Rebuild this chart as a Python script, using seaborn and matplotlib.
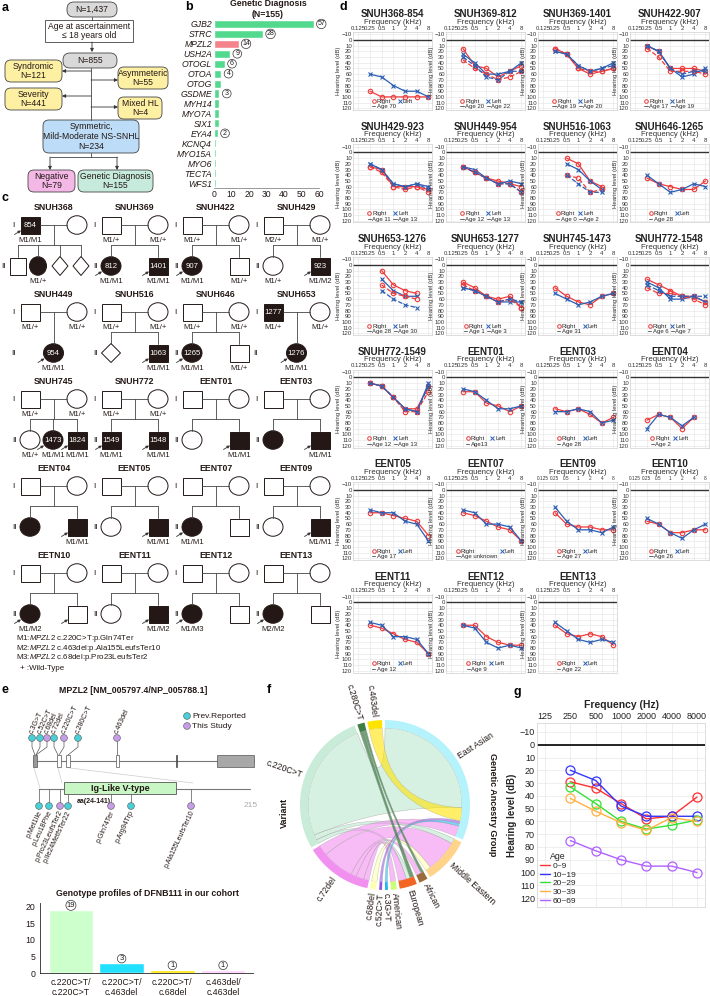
import numpy as np
import pandas as pd
import matplotlib
matplotlib.use('Agg')
import matplotlib.pyplot as plt
import seaborn as sns
from matplotlib.patches import FancyBboxPatch, Rectangle, Ellipse, Polygon, Circle, PathPatch
from matplotlib.path import Path
from matplotlib.lines import Line2D

# ---------------- data ----------------
# b: genetic diagnosis
genes = ['GJB2', 'STRC', 'MPZL2', 'USH2A', 'OTOGL', 'OTOA', 'OTOG', 'GSDME', 'MYH14',
         'MYO7A', 'SIX1', 'EYA4', 'KCNQ4', 'MYO15A', 'MYO6', 'TECTA', 'WFS1']
gene_counts = [57, 28, 14, 9, 6, 4, 4, 3, 3, 3, 3, 2, 1, 1, 1, 1, 1]
gene_circled = ['GJB2', 'STRC', 'MPZL2', 'USH2A', 'OTOGL', 'OTOA', 'GSDME', 'EYA4']

# d: audiograms (0.25, 0.5, 1, 2, 4, 8 kHz), n = not tested
n = None
aud_names = ['SNUH368-854', 'SNUH369-812', 'SNUH369-1401', 'SNUH422-907',
             'SNUH429-923', 'SNUH449-954', 'SNUH516-1063', 'SNUH646-1265',
             'SNUH653-1276', 'SNUH653-1277', 'SNUH745-1473', 'SNUH772-1548',
             'SNUH772-1549', 'EENT01', 'EENT03', 'EENT04',
             'EENT05', 'EENT07', 'EENT09', 'EENT10',
             'EENT11', 'EENT12', 'EENT13']
aud_age_a = ['Age 70', 'Age 20', 'Age 19', 'Age 17', 'Age 11', 'Age 12', 'Age 0', 'Age 28',
             'Age 28', 'Age 1', 'Age 31', 'Age 6', 'Age 12', 'Age13', 'Age 28', 'Age 2',
             'Age 17', 'Age unknown', 'Age 27', 'Age 26', 'Age 12', 'Age 9', 'Age 22']
aud_age_b = [n, 'Age 22', 'Age 20', 'Age 19', 'Age 13', 'Age 13', 'Age 2', n,
             'Age 30', 'Age 3', n, 'Age 7', 'Age 13', n, n, n,
             n, n, n, n, n, n, n]
right_a = [[90, 100, 100, 100, 100, 100], [15, 45, 50, 65, 55, 45], [15, 25, 50, 60, 55, 50],
           [10, 20, 50, 50, 50, 55], [25, 30, 60, 60, 60, 65], [25, 35, 45, 50, 55, 60],
           [n, 10, 20, 50, 60, n], [45, 55, 60, 65, 65, 50], [n, 10, 35, 45, 50, n],
           [30, 40, 55, 60, 55, 75], [40, 55, 65, 70, 55, 50], [25, 35, 45, 55, 55, 65],
           [10, 15, 35, 55, 55, 15], [25, 25, 45, 50, 60, 50], [55, 60, 55, 65, 80, 70],
           [75, 65, 70, 90, 70, n], [40, 40, 45, 50, 55, 80], [40, 45, 55, 65, 70, 90],
           [40, 60, 65, 65, 70, 70], [55, 60, 75, 75, 70, 70], [40, 45, 55, 65, 70, 90],
           [40, 40, 60, 70, 75, 75], [40, 55, 60, 55, 60, 75]]
left_a = [[60, 65, 80, 90, 90, 100], [25, 40, 60, 60, 55, 40], [20, 25, 45, 55, 50, 40],
          [10, 20, 50, 65, 60, 50], [20, 30, 55, 60, 55, 60], [25, 30, 45, 55, 50, 55],
          [n, 20, 30, 50, 65, n], [40, 55, 70, 65, 55, 60], [n, 25, 45, 55, 55, n],
          [40, 45, 55, 65, 65, 65], [50, 60, 70, 65, 55, 50], [30, 40, 60, 60, 55, 65],
          [10, 15, 35, 55, 60, 10], [20, 25, 40, 55, 55, 50], [60, 60, 55, 60, 80, 75],
          [90, 65, 70, 85, 70, n], [35, 40, 40, 55, 60, 90], [35, 40, 60, 60, 65, 90],
          [30, 55, 70, 70, 75, 65], [50, 60, 75, 85, 70, 60], [35, 40, 60, 60, 65, 90],
          [40, 45, 70, 80, 75, 80], [35, 50, 65, 70, 65, 70]]
right_b = [n, [35, 50, 60, 70, 65, 55], [15, 25, 50, 55, 55, 50], [15, 30, 55, 55, 55, 60],
           [25, 35, 60, 65, 60, 70], [25, 35, 45, 55, 55, 70], [n, 40, 45, 70, 65, n], n,
           [n, 35, 50, 55, 60, n], [35, 45, 55, 65, 60, 75], n, [40, 50, 50, 55, 60, 70],
           [10, 15, 35, 60, 60, 25], n, n, n, n, n, n, n, n, n, n]
left_b = [n, [30, 45, 65, 70, 55, 55], [20, 25, 45, 55, 50, 45], [10, 20, 50, 60, 55, 55],
          [20, 30, 55, 60, 55, 65], [25, 35, 45, 55, 55, 70], [n, 40, 55, 70, 70, n], n,
          [n, 45, 60, 70, 75, n], [40, 45, 55, 65, 60, 65], n, [35, 45, 55, 55, 55, 55],
          [10, 15, 35, 55, 60, 15], n, n, n, n, n, n, n, n, n, n]
khz_labels = ['0.125', '0.25', '0.5', '1', '2', '4', '8']

# e: genotype profiles
genotypes = ['c.220C>T/\nc.220C>T', 'c.220C>T/\nc.463del', 'c.220C>T/\nc.68del', 'c.463del/\nc.463del']
genotype_counts = [19, 3, 1, 1]
genotype_colors = ['#ccffcc', '#22e0ff', '#ffe800', '#ffd0ff']
dna_variants = ['c.3G>T', 'c.52C>T', 'c.68del', 'c.72del', 'c.220C>T', 'c.280C>T', 'c.463del']
dna_this_study = [0, 0, 1, 0, 1, 0, 1]
prot_variants = ['p.Met1Ile', 'p.Leu18Phe', 'p.Pro23LeufsTer2', 'p.Ile24MetfsTer22',
                 'p.Gln74Ter', 'p.Arg94Trp', 'p.Ala155LeufsTer10']
prot_this_study = [0, 0, 1, 0, 1, 0, 1]

# f: chord links (variant, ancestry group, weight)
links = [('c.220C>T', 'East Asian', 92), ('c.220C>T', 'Middle Eastern', 4), ('c.220C>T', 'European', 3),
         ('c.463del', 'East Asian', 10), ('c.72del', 'East Asian', 8), ('c.72del', 'Middle Eastern', 24),
         ('c.72del', 'African', 4), ('c.72del', 'European', 6), ('c.72del', 'American', 4),
         ('c.68del', 'Middle Eastern', 4), ('c.52C>T', 'East Asian', 2), ('c.3G>T', 'East Asian', 2),
         ('c.280C>T', 'African', 2), ('c.280C>T', 'European', 3)]
sectors = ['East Asian', 'c.463del', 'c.280C>T', 'c.220C>T', 'c.72del', 'c.68del', 'c.52C>T',
           'c.3G>T', 'American', 'European', 'African', 'Middle Eastern']
sector_colors = ['#b4f3fb', '#ffe400', '#3f7f45', '#c9ecd9', '#f290f0', '#ffffb0', '#9a55e8',
                 '#27b8f0', '#ccff77', '#f26522', '#9b6b3a', '#ffd48a']
east_asian_order = ['c.72del', 'c.3G>T', 'c.52C>T', 'c.463del', 'c.220C>T']

# g: mean audiogram by age group
g_freqs = ['125', '250', '500', '1000', '2000', '4000', '8000']
g_ages = ['0~9', '10~19', '20~29', '30~39', '60~69']
g_colors = ['#ff3030', '#3535ff', '#35e035', '#ffb040', '#b060ff']
g_levels = [[29, 34, 46, 58, 56, 41],
            [20, 28, 48, 56, 56, 56],
            [33, 46, 60, 66, 63, 59],
            [42, 52, 61, 67, 57, 60],
            [75, 83, 90, 95, 95, 100]]

# c: pedigrees (shape, affected, id, genotype, proband)
peds = [
    ('SNUH368', ('s', 1, '854', 'M1/M1', 1), ('c', 0, '', '', 0),
     [('s', 0, '', '', 0), ('c', 1, '', 'M1/+', 0), ('d', 0, '', '', 0), ('d', 0, '', '', 0)]),
    ('SNUH369', ('s', 0, '', 'M1/+', 0), ('c', 0, '', 'M1/+', 0),
     [('c', 1, '812', 'M1/M1', 1), ('s', 1, '1401', 'M1/M1', 1)]),
    ('SNUH422', ('s', 0, '', 'M1/+', 0), ('c', 0, '', 'M1/+', 0),
     [('c', 1, '907', 'M1/M1', 1), ('s', 0, '', 'M1/+', 0)]),
    ('SNUH429', ('s', 0, '', 'M2/+', 0), ('c', 0, '', 'M1/+', 0),
     [('c', 0, '', 'M1/+', 0), ('s', 1, '923', 'M1/M2', 1)]),
    ('SNUH449', ('s', 0, '', 'M1/+', 0), ('c', 0, '', 'M1/+', 0), [('c', 1, '954', 'M1/M1', 1)]),
    ('SNUH516', ('s', 0, '', 'M1/+', 0), ('c', 0, '', 'M1/+', 0),
     [('d', 0, '', '', 0), ('s', 1, '1063', 'M1/M1', 1)]),
    ('SNUH646', ('s', 0, '', 'M1/+', 0), ('c', 0, '', 'M1/+', 0),
     [('c', 1, '1265', 'M1/M1', 1), ('s', 0, '', 'M1/+', 0)]),
    ('SNUH653', ('s', 1, '1277', 'M1/+', 0), ('c', 0, '', 'M1/+', 0), [('c', 1, '1276', 'M1/M1', 1)]),
    ('SNUH745', ('s', 0, '', 'M1/+', 0), ('c', 0, '', 'M1/+', 0),
     [('c', 0, '', 'M1/+', 0), ('c', 1, '1473', 'M1/M1', 1), ('s', 1, '1824', 'M1/M1', 1)]),
    ('SNUH772', ('s', 0, '', 'M1/+', 0), ('c', 0, '', 'M1/+', 0),
     [('s', 1, '1549', 'M1/M1', 1), ('s', 1, '1548', 'M1/M1', 1)]),
    ('EENT01', ('s', 0, '', '', 0), ('c', 0, '', '', 0), [('c', 0, '', '', 0), ('s', 1, '', 'M1/M1', 1)]),
    ('EENT03', ('s', 0, '', '', 0), ('c', 0, '', '', 0), [('c', 1, '', '', 0), ('s', 1, '', 'M1/M1', 1)]),
    ('EENT04', ('s', 0, '', '', 0), ('c', 0, '', '', 0), [('c', 1, '', '', 0), ('s', 1, '', 'M1/M1', 1)]),
    ('EENT05', ('s', 0, '', '', 0), ('c', 0, '', '', 0), [('c', 0, '', '', 0), ('s', 1, '', 'M1/M1', 1)]),
    ('EENT07', ('s', 0, '', '', 0), ('c', 0, '', '', 0), [('c', 1, '', 'M1/M1', 1), ('s', 0, '', '', 0)]),
    ('EENT09', ('s', 0, '', '', 0), ('c', 0, '', '', 0), [('c', 0, '', '', 0), ('s', 1, '', 'M1/M1', 1)]),
    ('EETN10', ('s', 0, '', '', 0), ('c', 0, '', '', 0), [('c', 1, '', 'M1/M2', 1), ('s', 0, '', '', 1)]),
    ('EENT11', ('s', 0, '', '', 0), ('c', 0, '', '', 0), [('c', 0, '', '', 0), ('s', 1, '', 'M1/M2', 1)]),
    ('EENT12', ('s', 0, '', '', 0), ('c', 0, '', '', 0), [('c', 1, '', 'M1/M3', 1), ('s', 0, '', '', 0)]),
    ('EENT13', ('s', 0, '', '', 0), ('c', 0, '', '', 0), [('c', 1, '', 'M2/M2', 1), ('s', 0, '', '', 0)]),
]

# ---------------- figure ----------------
sns.set_theme(style='white')
plt.rcParams['font.family'] = ['Liberation Sans', 'DejaVu Sans']
plt.rcParams['mathtext.fontset'] = 'custom'
plt.rcParams['mathtext.rm'] = 'Liberation Sans'
plt.rcParams['mathtext.it'] = 'Liberation Sans:italic'
plt.rcParams['axes.linewidth'] = 0.6

W, H = 710, 996
fig = plt.figure(figsize=(W / 100, H / 100), dpi=100)
bg = fig.add_axes([0, 0, 1, 1])
bg.set_xlim(0, W)
bg.set_ylim(H, 0)
bg.axis('off')
INK = '#231815'


def box(x0, y0, x1, y1):
    return [x0 / W, 1 - y1 / H, (x1 - x0) / W, (y1 - y0) / H]


def txt(x, y, s, **kw):
    kw.setdefault('ha', 'center')
    kw.setdefault('va', 'center')
    kw.setdefault('color', INK)
    bg.text(x, y, s, **kw)


def arrow(x0, y0, x1, y1, ms=5):
    bg.annotate('', xy=(x1, y1), xytext=(x0, y0),
                arrowprops=dict(arrowstyle='-|>', color='#333', lw=0.6, mutation_scale=ms,
                                shrinkA=0, shrinkB=0))


def line(xs, ys, **kw):
    kw.setdefault('color', '#444')
    kw.setdefault('lw', 0.6)
    bg.plot(xs, ys, **kw)


for s, x, y in [('a', 5, 8), ('b', 189, 7), ('c', 5, 198), ('d', 343, 7), ('e', 5, 690),
                ('f', 269, 690), ('g', 517, 692)]:
    txt(x, y, s, fontsize=9, fontweight='bold', color='black')

# ---- a: flowchart ----
def flow_box(x0, y0, x1, y1, fc, s, r=6):
    bg.add_patch(FancyBboxPatch((x0, y0), x1 - x0, y1 - y0,
                                boxstyle=f'round,pad=0,rounding_size={r}', fc=fc, ec='#444', lw=0.6))
    txt((x0 + x1) / 2, (y0 + y1) / 2, s, fontsize=6.2, linespacing=1.1)


flow_box(67, 2, 117, 17, '#d9d9d9', 'N=1,437', r=7)
line([92, 92], [17, 20])
bg.add_patch(Rectangle((45, 20), 88, 22, fc='white', ec='#444', lw=0.6))
txt(89, 31, 'Age at ascertainment\n≤ 18 years old', fontsize=6.2, linespacing=1.1)
arrow(92, 42, 92, 52)
flow_box(63, 53, 117, 68, '#d9d9d9', 'N=855', r=7)
line([91, 91], [68, 120])
arrow(91, 71, 62, 71)
arrow(91, 80, 118, 80)
arrow(91, 96, 62, 96)
arrow(91, 107, 118, 107)
flow_box(5, 60, 62, 82, '#fdf0a3', 'Syndromic\nN=121')
flow_box(118, 67, 168, 89, '#fdf0a3', 'Asymmeteric\nN=55')
flow_box(5, 88, 62, 110, '#fdf0a3', 'Severity\nN=441')
flow_box(118, 97, 162, 119, '#fdf0a3', 'Mixed HL\nN=4')
flow_box(43, 120, 139, 153, '#bcdcf7', 'Symmetric,\nMild-Moderate NS-SNHL\nN=234')
line([91, 91], [153, 157])
line([50, 117], [157, 157])
arrow(50, 157, 50, 170)
arrow(117, 157, 117, 170)
flow_box(28, 170, 75, 192, '#f4b8e6', 'Negative\nN=79')
flow_box(78, 170, 153, 192, '#c6eadb', 'Genetic Diagnosis\nN=155')

# ---- b: genetic diagnosis bars ----
axb = fig.add_axes(box(214, 19, 319, 188))
dfb = pd.DataFrame({'gene': genes, 'n': gene_counts})
bar_pal = ['#f4838b' if g == 'MPZL2' else '#52d98e' for g in genes]
sns.barplot(data=dfb, x='n', y='gene', hue='gene', palette=bar_pal, legend=False,
            width=0.82, saturation=1, ax=axb)
axb.set_xlim(0, 60)
axb.set_xticks(range(0, 61, 10))
axb.set_yticks(range(len(genes)))
axb.set_yticklabels(genes, fontstyle='italic')
axb.tick_params(labelsize=6.2, length=0, pad=1.5, colors=INK)
axb.set(xlabel='', ylabel='')
sns.despine(ax=axb, left=True)
axb.spines['bottom'].set_color('#888')
for i, (g, v) in enumerate(zip(genes, gene_counts)):
    if g in gene_circled:
        axb.text(v + 4.3, i, str(v), ha='center', va='center', fontsize=5, color=INK,
                 bbox=dict(boxstyle='circle,pad=0.12', fc='white', ec='#333', lw=0.5))
txt(268, 9, 'Genetic Diagnosis\n(N=155)', fontsize=6.3, fontweight='bold', linespacing=1.15)

# ---- c: pedigrees ----
def member(x, y, m, w=19, h=17):
    shape, aff, num, lab, prob = m
    fc = INK if aff else 'white'
    if shape == 's':
        p = Rectangle((x - w / 2, y - h / 2), w, h, fc=fc, ec=INK, lw=0.7)
    elif shape == 'c':
        p = Ellipse((x, y), w + 1, h + 1.5, fc=fc, ec=INK, lw=0.7)
    else:
        p = Polygon([(x, y - h / 2 - 1), (x + w / 2, y), (x, y + h / 2 + 1), (x - w / 2, y)],
                    fc=fc, ec=INK, lw=0.7)
    bg.add_patch(p)
    if num:
        txt(x, y, num, fontsize=5.6, color='white')
    if lab:
        txt(x, y + 15.5, lab, fontsize=5.6)
    if prob:
        arrow(x - w / 2 - 6, y + h / 2 + 1, x - w / 2 + 0.5, y + h / 2 - 3, ms=4)


child_offsets = {1: [23.5], 2: [0, 47], 3: [0, 23, 47], 4: [-12, 8, 30, 51]}
for k, (name, fa, mo, kids) in enumerate(peds):
    row, col = divmod(k, 4)
    fx = 30 + 81 * col
    ty = 207 + 87 * row
    y1, y2, ysib = ty + 18, ty + 59, ty + 38
    txt(fx + 23.5, ty, name, fontsize=6.3, fontweight='bold')
    line([fx + 9.5, fx + 37], [y1, y1])
    offs = child_offsets[len(kids)]
    w = 16 if len(kids) == 4 else 19
    if len(kids) == 1:
        line([fx + 23.5, fx + 23.5], [y1, y2 - 9])
    else:
        line([fx + 23.5, fx + 23.5], [y1, ysib])
        line([fx + offs[0], fx + offs[-1]], [ysib, ysib])
        for o in offs:
            line([fx + o, fx + o], [ysib, y2 - 9])
    member(fx, y1, fa)
    member(fx + 47, y1, mo)
    for o, kid in zip(offs, kids):
        member(fx + o, y2, kid, w=w)
    txt(fx - 17, y1, 'I', fontsize=6)
    txt(fx + offs[0] - (w / 2 + 6) if len(kids) > 1 else fx - 17, y2, 'II', fontsize=6)

for j, s in enumerate(['M1:$\\it{MPZL2}$ c.220C>T:p.Gln74Ter',
                       'M2:$\\it{MPZL2}$ c.463del:p.Ala155LeufsTer10',
                       'M3:$\\it{MPZL2}$ c.68del:p.Pro23LeufsTer2']):
    txt(16, 638.5 + 9.7 * j, s, fontsize=5.7, ha='left')
txt(20, 668, '+ :Wild-Type', fontsize=5.7, ha='left')

# ---- d: audiograms ----
RED, BLUE = '#ee3b3b', '#2b5fb5'
d_left = [353, 446, 538, 630]
xs = np.arange(1, 7)
for i, name in enumerate(aud_names):
    row, col = divmod(i, 4)
    left = d_left[col]
    ty = 14 + 112.5 * row
    ax = fig.add_axes(box(left, ty + 18, left + 79, ty + 96))
    series = [(right_a[i], RED, 'o', '-'), (left_a[i], BLUE, 'x', '-'),
              (right_b[i], RED, 'o', '--'), (left_b[i], BLUE, 'x', '--')]
    for vals, colr, mk, ls in series:
        if vals is None:
            continue
        v = np.array(vals, dtype=float)
        sns.lineplot(x=xs, y=v, color=colr, marker=mk, linestyle=ls, lw=0.9, markersize=3.2,
                     markerfacecolor='none' if mk == 'o' else colr, markeredgecolor=colr,
                     markeredgewidth=0.8, ax=ax)
    ax.axhline(0, color='#333', lw=1.0, zorder=1)
    ax.set_xlim(-0.45, 6.3)
    ax.set_ylim(123, -14)
    ax.set_xticks(range(7))
    ax.set_xticklabels(khz_labels)
    ax.xaxis.tick_top()
    ax.set_yticks(range(-10, 121, 10))
    ax.tick_params(labelsize=4.3, length=0, pad=0.8, colors='#333')
    if name in ('EENT09', 'EENT10'):
        ax.tick_params(axis='x', labelsize=3.4)
    ax.grid(True, color='#e4e4e4', lw=0.4)
    for sp in ax.spines.values():
        sp.set_color('#cfcfcf')
        sp.set_linewidth(0.5)
    ax.set_xlabel('')
    ax.set_ylabel('Hearing level (dB)', fontsize=4.3, labelpad=0.5, color='#333')
    hs = [Line2D([], [], color=RED, marker='o', mfc='none', ls='none', ms=2.6, mew=0.7),
          Line2D([], [], color='#666', lw=0.7)]
    labs = ['Right', aud_age_a[i]]
    hs.append(Line2D([], [], color=BLUE, marker='x', ls='none', ms=2.6, mew=0.7))
    labs.append('Left')
    if aud_age_b[i]:
        hs.append(Line2D([], [], color='#666', lw=0.7))
        labs.append(aud_age_b[i])
    ax.legend(hs, labs, ncol=2, loc='lower center', fontsize=4.3, frameon=False,
              handlelength=0.6, handletextpad=0.2, columnspacing=0.4, labelspacing=0.05,
              borderaxespad=0.15, borderpad=0)
    txt(left + 39.5, ty, name, fontsize=7, fontweight='bold', color='#222')
    txt(left + 39.5, ty + 8, 'Frequency (kHz)', fontsize=5.6, color='#333')

# ---- e: gene / protein structure ----
CYAN, PURP = '#48d0d8', '#c79ce8'
txt(133, 690, 'MPZL2 [NM_005797.4/NP_005788.1]', fontsize=6.3, fontweight='bold')
line([33, 254], [761, 761], color='#777', lw=0.8)
for x0, x1, fc in [(33, 37, '#999999'), (57, 61, 'white'), (66, 70, 'white'),
                   (116, 119, 'white'), (175.5, 177, INK), (217, 254, '#a8a8a8')]:
    bg.add_patch(Rectangle((x0, 755), x1 - x0, 12, fc=fc, ec='#555', lw=0.5, zorder=3))
dna_x = [32, 40, 47, 54, 64, 78, 117]
dna_tx = [35, 36, 36, 58, 59, 68, 117]
for x, tx, nm, ts in zip(dna_x, dna_tx, dna_variants, dna_this_study):
    line([x, x, tx], [741, 747, 755], color='#555', lw=0.5)
    bg.add_patch(Circle((x, 738), 3.4, fc=PURP if ts else CYAN, ec='#555', lw=0.4, zorder=4))
    bg.text(x - 1, 733.5, nm, rotation=65, rotation_mode='anchor', ha='left', va='center',
            fontsize=5, color=INK)
bg.add_patch(Circle((187, 716), 3.4, fc=CYAN, ec='#555', lw=0.4))
bg.add_patch(Circle((187, 726), 3.4, fc=PURP, ec='#555', lw=0.4))
txt(192, 716, 'Prev.Reported', fontsize=6, ha='left')
txt(192, 726, 'This Study', fontsize=6, ha='left')
for (x0, y0), (x1, y1) in [((34, 768), (40, 788)), ((58, 768), (62, 783)), ((70, 768), (193, 783))]:
    line([x0, x1], [y0, y1], color='#cccccc', lw=0.5)
line([39, 250], [789, 789], color='#777', lw=0.8)
bg.add_patch(Rectangle((64, 782), 112, 12, fc='#c8f7c5', ec='#555', lw=0.6, zorder=3))
txt(120, 788, 'Ig-Like V-type', fontsize=6.5, fontweight='bold', zorder=4)
txt(94, 801.5, 'aa(24-141)', fontsize=5, fontweight='bold')
txt(251, 805, '215', fontsize=6, color='#aaaaaa')
prot_x = [39, 49, 60, 68, 111, 131, 191]
for x, nm, ts in zip(prot_x, prot_variants, prot_this_study):
    line([x, x], [789, 803], color='#555', lw=0.5)
    bg.add_patch(Circle((x, 806), 3.4, fc=PURP if ts else CYAN, ec='#555', lw=0.4, zorder=4))
    bg.text(x + 1.5, 811, nm, rotation=65, rotation_mode='anchor', ha='right', va='center',
            fontsize=5, color=INK)

txt(147, 893, 'Genotype profiles of DFNB111 in our cohort', fontsize=6.3, fontweight='bold')
axe = fig.add_axes(box(40, 903, 253, 973))
dfe = pd.DataFrame({'gt': genotypes, 'n': genotype_counts})
sns.barplot(data=dfe, x='gt', y='n', hue='gt', palette=genotype_colors, legend=False,
            width=0.88, saturation=1, ax=axe)
axe.set_xlim(-0.61, 3.59)
axe.set_ylim(0, 21)
axe.set_yticks([0, 5, 10, 15, 20])
axe.tick_params(labelsize=6.3, length=2, pad=1.5, colors=INK)
axe.set(xlabel='', ylabel='')
sns.despine(ax=axe)
for i, v in enumerate(genotype_counts):
    axe.text(i, v + 1.3, str(v), ha='center', va='center', fontsize=5.5, color=INK,
             bbox=dict(boxstyle='circle,pad=0.1', fc='white', ec='#333', lw=0.5))

# ---- f: chord diagram ----
cx, cy, r_out, r_in = 385, 805, 85, 77
sizes = {s: 0 for s in sectors}
for a, b, v in links:
    sizes[a] += v
    sizes[b] += v
gap = 2.0
scale = (360 - gap * len(sectors)) / sum(sizes.values())
span, a0 = {}, -24.0
for s in sectors:
    span[s] = (a0, a0 + sizes[s] * scale)
    a0 += sizes[s] * scale + gap
mid = {s: (span[s][0] + span[s][1]) / 2 for s in sectors}


def pt(a, r):
    t = np.deg2rad(a)
    return cx + r * np.cos(t), cy - r * np.sin(t)


for s, colr in zip(sectors, sector_colors):
    t = np.linspace(span[s][0], span[s][1], 40)
    poly = [pt(a, r_out) for a in t] + [pt(a, r_in) for a in t[::-1]]
    bg.add_patch(Polygon(poly, fc=colr, ec='none', zorder=3))

# allocate sub-arcs of each sector to its links
alloc = {}
for s in sectors:
    mine = [(k, l) for k, l in enumerate(links) if s in (l[0], l[1])]

    def other(item):
        return item[1][1] if item[1][0] == s else item[1][0]

    if s == 'East Asian':
        mine.sort(key=lambda it: east_asian_order.index(other(it)))
    else:
        mine.sort(key=lambda it: (mid[other(it)] - mid[s]) % 360, reverse=True)
    a = span[s][0]
    for k, l in mine:
        alloc[(k, s)] = (a, a + l[2] * scale)
        a += l[2] * scale

col_of = dict(zip(sectors, sector_colors))
for k, (va, gb, v) in enumerate(links):
    s0, s1 = alloc[(k, va)]
    t0, t1 = alloc[(k, gb)]
    verts, codes = [], []
    for j, a in enumerate(np.linspace(s0, s1, 20)):
        verts.append(pt(a, r_in))
        codes.append(Path.MOVETO if j == 0 else Path.LINETO)
    verts += [(cx, cy), pt(t0, r_in)]
    codes += [Path.CURVE3, Path.CURVE3]
    for a in np.linspace(t0, t1, 20)[1:]:
        verts.append(pt(a, r_in))
        codes.append(Path.LINETO)
    verts += [(cx, cy), pt(s0, r_in)]
    codes += [Path.CURVE3, Path.CURVE3]
    colr = col_of[va]
    alpha = 0.75 if va in ('c.220C>T', 'c.280C>T') else 0.6
    zo = 2.5 if va == 'c.463del' else 2
    bg.add_patch(PathPatch(Path(verts, codes), fc=colr, ec='#999999', lw=0.3, alpha=alpha, zorder=zo))

for s in sectors:
    m = mid[s]
    mm = (m + 180) % 360 - 180
    x, y = pt(m, r_out + 3)
    if -90 <= mm <= 90:
        rot, ha = mm, 'left'
    else:
        rot, ha = mm - 180, 'right'
    bg.text(x, y, s, rotation=rot, rotation_mode='anchor', ha=ha, va='center', fontsize=6.2,
            color=INK)
txt(284, 813, 'Variant', rotation=90, fontsize=6.5, fontweight='bold')
txt(493, 805, 'Genetic Ancestry Group', rotation=-90, fontsize=6.5, fontweight='bold')

# ---- g: age group audiogram ----
axg = fig.add_axes(box(537, 723, 705, 907))
for age, vals, colr in zip(g_ages, g_levels, g_colors):
    sns.lineplot(x=xs, y=vals, color=colr, marker='o', markersize=6.5, markerfacecolor='none',
                 markeredgecolor=colr, markeredgewidth=0.9, lw=1.0, ax=axg)
axg.axhline(0, color='black', lw=1.2, zorder=1)
axg.set_xlim(-0.32, 6.32)
axg.set_ylim(127, -17)
axg.set_xticks(range(7))
axg.set_xticklabels(g_freqs)
axg.xaxis.tick_top()
axg.xaxis.set_label_position('top')
axg.set_yticks(range(-10, 121, 10))
axg.tick_params(labelsize=6.5, length=0, pad=1.5, colors='#222')
axg.grid(True, color='#e8e8e8', lw=0.5)
for sp in axg.spines.values():
    sp.set_color('#d8d8d8')
axg.set_xlabel('Frequency (Hz)', fontsize=7.5, fontweight='bold', labelpad=3)
axg.set_ylabel('Hearing level (dB)', fontsize=7, fontweight='bold', labelpad=2)
hs = [Line2D([], [], color=c, lw=1) for c in g_colors]
axg.legend(hs, g_ages, title='Age', loc='lower left', fontsize=6, title_fontsize=6.3,
           frameon=False, handlelength=1.3, handletextpad=0.3, labelspacing=0.1,
           borderaxespad=0.3, borderpad=0)

fig.savefig('out.png', dpi=100)
